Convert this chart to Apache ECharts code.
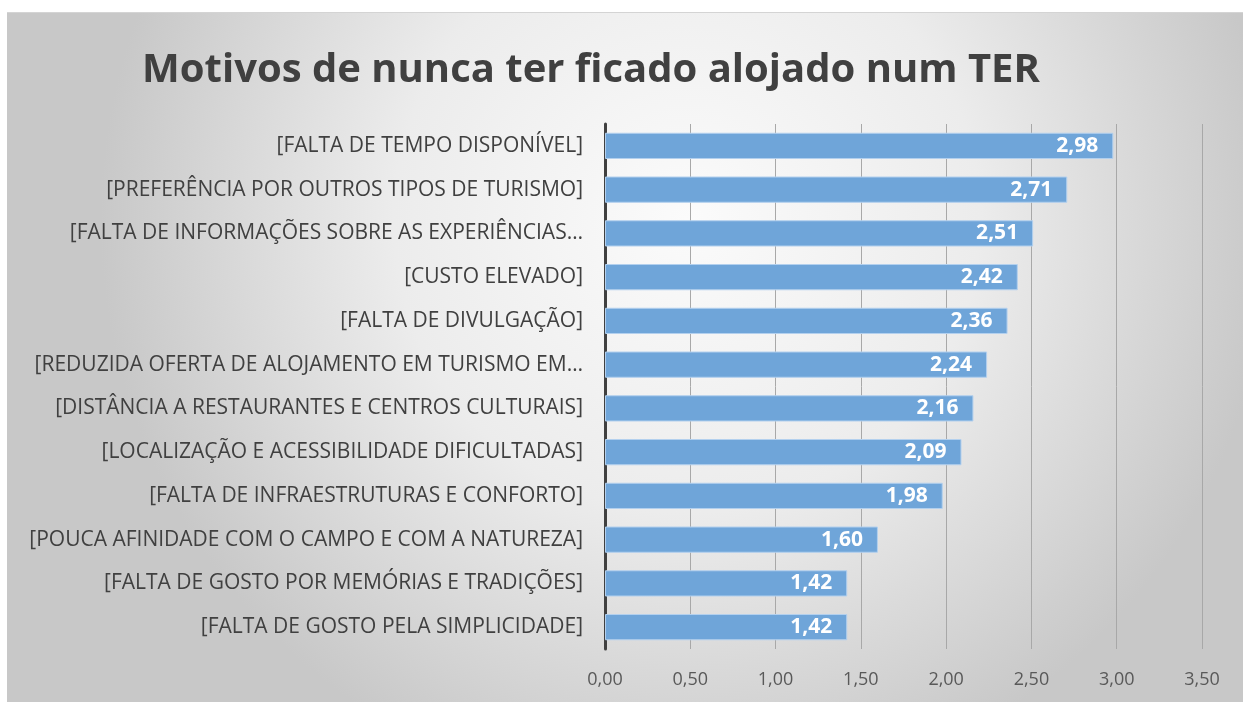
<!DOCTYPE html>
<html>
<head>
<meta charset="utf-8">
<script src="https://cdn.jsdelivr.net/npm/echarts@6/dist/echarts.min.js"></script>
<style>
  html, body { margin: 0; padding: 0; background: #fff; }
  #chart { position: absolute; left: 7px; top: 12px; width: 1236px; height: 690px; border-top: 1px solid #d4d4d4; }
</style>
</head>
<body>
<div id="chart"></div>
<script>
// categories from top to bottom
const categories = [
  "[FALTA DE TEMPO DISPONÍVEL]",
  "[PREFERÊNCIA POR OUTROS TIPOS DE TURISMO]",
  "[FALTA DE INFORMAÇÕES SOBRE AS EXPERIÊNCIAS…",
  "[CUSTO ELEVADO]",
  "[FALTA DE DIVULGAÇÃO]",
  "[REDUZIDA OFERTA DE ALOJAMENTO EM TURISMO EM…",
  "[DISTÂNCIA A RESTAURANTES E CENTROS CULTURAIS]",
  "[LOCALIZAÇÃO E ACESSIBILIDADE DIFICULTADAS]",
  "[FALTA DE INFRAESTRUTURAS E CONFORTO]",
  "[POUCA AFINIDADE COM O CAMPO E COM A NATUREZA]",
  "[FALTA DE GOSTO POR MEMÓRIAS E TRADIÇÕES]",
  "[FALTA DE GOSTO PELA SIMPLICIDADE]"
];
const values = [2.98, 2.71, 2.51, 2.42, 2.36, 2.24, 2.16, 2.09, 1.98, 1.60, 1.42, 1.42];

const fmt = (v) => Number(v).toFixed(2).replace(".", ",");

const myChart = echarts.init(document.getElementById("chart"));
const option = {
  backgroundColor: {
    type: "radial",
    x: 0.55, y: 0.3, r: 0.85,
    colorStops: [
      { offset: 0, color: "#fbfbfb" },
      { offset: 0.5, color: "#ececec" },
      { offset: 1, color: "#c8c8c8" }
    ]
  },
  title: {
    text: "Motivos de nunca ter ficado alojado num TER",
    left: 579,
    top: 33,
    textAlign: "center",
    textStyle: {
      fontFamily: "Open Sans",
      fontWeight: "bold",
      fontSize: 40,
      color: "#404040"
    }
  },
  grid: { left: 598, right: 41, top: 111, bottom: 54 },
  xAxis: {
    type: "value",
    min: 0,
    max: 3.5,
    interval: 0.5,
    axisLine: { show: false },
    axisTick: { show: false },
    splitLine: { lineStyle: { color: "#a8a8a8", width: 1 } },
    axisLabel: {
      formatter: fmt,
      color: "#595959",
      fontSize: 18,
      fontFamily: "Open Sans",
      margin: 22
    }
  },
  yAxis: {
    type: "category",
    data: categories,
    inverse: true,
    axisTick: { show: false },
    axisLine: { lineStyle: { color: "#404040", width: 3 } },
    axisLabel: {
      color: "#404040",
      fontSize: 21,
      fontFamily: "Open Sans",
      margin: 22
    }
  },
  series: [{
    type: "bar",
    data: values,
    barCategoryGap: "40%",
    itemStyle: { color: "#6fa5d9", borderColor: "#b3d0ee", borderWidth: 1 },
    label: {
      show: true,
      position: "insideRight",
      formatter: (p) => fmt(p.value),
      color: "#fff",
      fontWeight: "bold",
      fontSize: 21,
      fontFamily: "Open Sans",
      distance: 15
    }
  }]
};
myChart.setOption(option);
</script>
</body>
</html>
